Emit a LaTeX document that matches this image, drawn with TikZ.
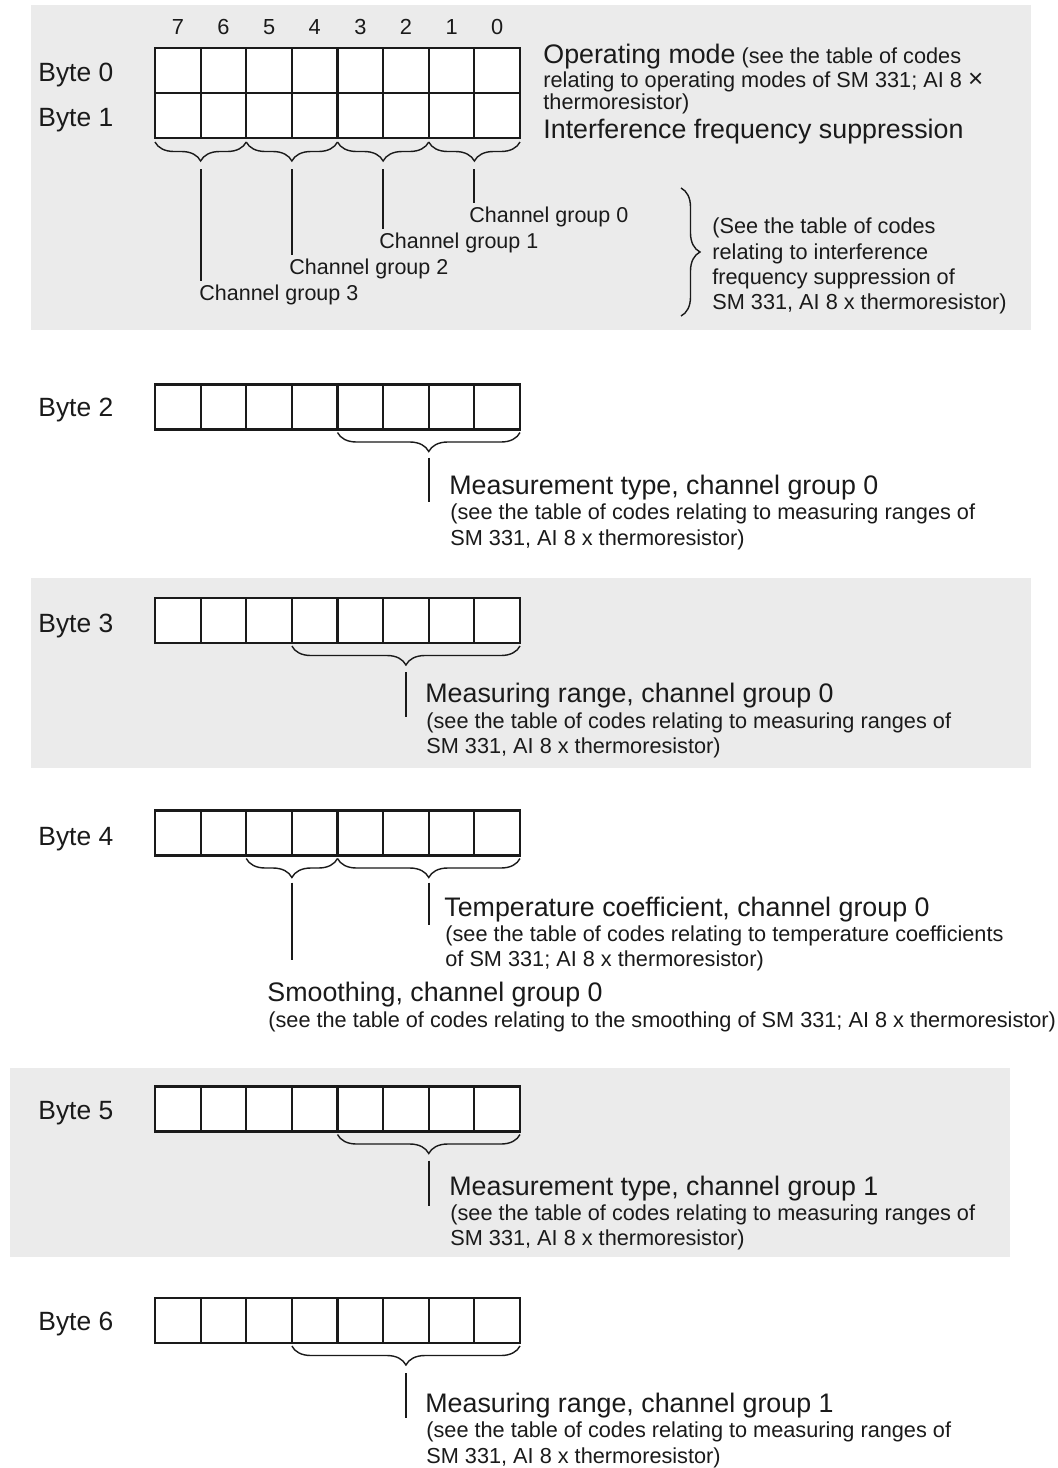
\documentclass[tikz,border=0pt]{standalone}
\usepackage{fontspec}
\setmainfont{Liberation Sans}
\usetikzlibrary{decorations.pathreplacing,calc}
\definecolor{panelgrey}{HTML}{EBEBEB}
\definecolor{ink}{HTML}{1A1A1A}
\begin{document}
\begin{tikzpicture}[x=0.5pt,y=-0.5pt,
  cell/.style={draw=ink,line width=1.1pt,fill=white,minimum width=22.8125pt,minimum height=22.5pt,inner sep=0pt,outer sep=0pt},
  panel/.style={fill=panelgrey,draw=none},
  brc/.style={draw=ink,decorate,decoration={brace,mirror,amplitude=9.5pt},line width=0.7pt},
  rbrc/.style={draw=ink,decorate,decoration={brace,amplitude=9.5pt},line width=0.7pt},
  lead/.style={draw=ink,line width=1pt},
  big/.style={text=ink,font=\fontsize{13.4}{15}\selectfont,inner sep=0pt,anchor=base west},
  sml/.style={text=ink,font=\fontsize{10.85}{12.7}\selectfont,inner sep=0pt,anchor=base west},
  grp/.style={text=ink,font=\fontsize{10.75}{12.7}\selectfont,inner sep=0pt,anchor=base west},
  bytelbl/.style={text=ink,font=\fontsize{13.2}{15}\selectfont,inner sep=0pt,anchor=base west},
  bitno/.style={text=ink,font=\fontsize{10.9}{12.7}\selectfont,inner sep=0pt,anchor=base}]
\useasboundingbox (0,0) rectangle (1057,1468);
\fill[white] (0,0) rectangle (1057,1468);
% grey panels
\fill[panel] (31,5) rectangle (1031,330);
\fill[panel] (31,578) rectangle (1031,768);
\fill[panel] (10,1068) rectangle (1010,1257);
% cells
\foreach \r/\y in {0/70.5,1/115.5,2/407,3/620.5,4/833,5/1109,6/1320.5}{
  \foreach \b in {0,...,7}{
    \node[cell] (r\r b\b) at ({155+(7-\b+0.5)*45.625},\y) {};
  }
}
% bit numbers
\foreach \b in {0,...,7}{
  \node[bitno] (n\b) at ({155+(7-\b+0.5)*45.625},34.5) {\b};
}
% byte labels
\node[bytelbl] (l0) at (38,81.5) {Byte 0};
\node[bytelbl] (l1) at (38,126.5) {Byte 1};
\node[bytelbl] (l2) at (38,416.5) {Byte 2};
\node[bytelbl] (l3) at (38,632.5) {Byte 3};
\node[bytelbl] (l4) at (38,845.5) {Byte 4};
\node[bytelbl] (l5) at (38,1119.5) {Byte 5};
\node[bytelbl] (l6) at (38,1330.5) {Byte 6};
% ---------- Byte 0/1 ----------
\node[big] (om) at (543,63.5) {Operating mode{\fontsize{10.85}{12.7}\selectfont\ (see the table of codes}};
\node[sml] (om2) at (543,87.5) {relating to operating modes of SM 331; AI 8 {\fontsize{13}{14}\selectfont ×}};
\node[sml] (om3) at (543,109) {thermoresistor)};
\node[big] (ifs) at (543,138) {Interference frequency suppression};
\foreach \i/\a/\c in {3/7/6,2/5/4,1/3/2,0/1/0}{
  \draw[brc] ([yshift=-2pt]r1b\a.south west) -- ([yshift=-2pt]r1b\c.south east);
  \coordinate (g\i) at ($(r1b\a.south west)!0.5!(r1b\c.south east)$);
}
\node[grp] (cg0) at (469,222.7) {Channel group 0};
\node[grp] (cg1) at (379,248.7) {Channel group 1};
\node[grp] (cg2) at (289,274.7) {Channel group 2};
\node[grp] (cg3) at (199,300.7) {Channel group 3};
\foreach \i in {0,...,3}{
  \draw[lead] ([yshift=-15.5pt]g\i) -- ([yshift=2pt]cg\i.north -| g\i);
}
\coordinate (rbt) at (681,188);
\coordinate (rbb) at (681,316);
\draw[rbrc] (rbt) -- (rbb);
\node[sml] (st1) at (712,233.5) {(See the table of codes};
\node[sml] (st2) at (712,259) {relating to interference};
\node[sml] (st3) at (712,284.5) {frequency suppression of};
\node[sml] (st4) at (712,309.5) {SM 331, AI 8 x thermoresistor)};
% ---------- Byte 2 ----------
\draw[brc] ([yshift=-1.5pt]r2b3.south west) -- ([yshift=-1.5pt]r2b0.south east);
\coordinate (t2) at ($(r2b3.south west)!0.5!(r2b0.south east)$);
\draw[lead] ([yshift=-14pt]t2) -- ++(0,44);
\node[big] (d2) at (449,494) {Measurement type, channel group 0};
\node[sml] (d2a) at (450,519.5) {(see the table of codes relating to measuring ranges of};
\node[sml] (d2b) at (450,545.5) {SM 331, AI 8 x thermoresistor)};
% ---------- Byte 3 ----------
\draw[brc] ([yshift=-1.5pt]r3b4.south west) -- ([yshift=-1.5pt]r3b0.south east);
\coordinate (t3) at ($(r3b4.south west)!0.5!(r3b0.south east)$);
\draw[lead] ([yshift=-14.5pt]t3) -- ++(0,45);
\node[big] (d3) at (425,702) {Measuring range, channel group 0};
\node[sml] (d3a) at (426,728.5) {(see the table of codes relating to measuring ranges of};
\node[sml] (d3b) at (426,753.5) {SM 331, AI 8 x thermoresistor)};
% ---------- Byte 4 ----------
\draw[brc] ([yshift=-1.5pt]r4b5.south west) -- ([yshift=-1.5pt]r4b4.south east);
\draw[brc] ([yshift=-1.5pt]r4b3.south west) -- ([yshift=-1.5pt]r4b0.south east);
\coordinate (t4s) at ($(r4b5.south west)!0.5!(r4b4.south east)$);
\coordinate (t4t) at ($(r4b3.south west)!0.5!(r4b0.south east)$);
\draw[lead] ([yshift=-13.5pt]t4s) -- ++(0,77);
\draw[lead] ([yshift=-13.5pt]t4t) -- ++(0,42);
\node[big] (d4) at (444,916) {Temperature coefficient, channel group 0};
\node[sml] (d4a) at (445,941.5) {(see the table of codes relating to temperature coefficients};
\node[sml] (d4b) at (445,966.5) {of SM 331; AI 8 x thermoresistor)};
\node[big] (d4s) at (267,1001) {Smoothing, channel group 0};
\node[sml] (d4sa) at (268,1027.5) {(see the table of codes relating to the smoothing of SM 331; AI 8 x thermoresistor)};
% ---------- Byte 5 ----------
\draw[brc] ([yshift=-1.5pt]r5b3.south west) -- ([yshift=-1.5pt]r5b0.south east);
\coordinate (t5) at ($(r5b3.south west)!0.5!(r5b0.south east)$);
\draw[lead] ([yshift=-14.5pt]t5) -- ++(0,45);
\node[big] (d5) at (449,1195) {Measurement type, channel group 1};
\node[sml] (d5a) at (450,1220.5) {(see the table of codes relating to measuring ranges of};
\node[sml] (d5b) at (450,1245.5) {SM 331, AI 8 x thermoresistor)};
% ---------- Byte 6 ----------
\draw[brc] ([yshift=-1.5pt]r6b4.south west) -- ([yshift=-1.5pt]r6b0.south east);
\coordinate (t6) at ($(r6b4.south west)!0.5!(r6b0.south east)$);
\draw[lead] ([yshift=-15pt]t6) -- ++(0,45);
\node[big] (d6) at (425,1412) {Measuring range, channel group 1};
\node[sml] (d6a) at (426,1437.5) {(see the table of codes relating to measuring ranges of};
\node[sml] (d6b) at (426,1463.5) {SM 331, AI 8 x thermoresistor)};
\end{tikzpicture}
\end{document}
